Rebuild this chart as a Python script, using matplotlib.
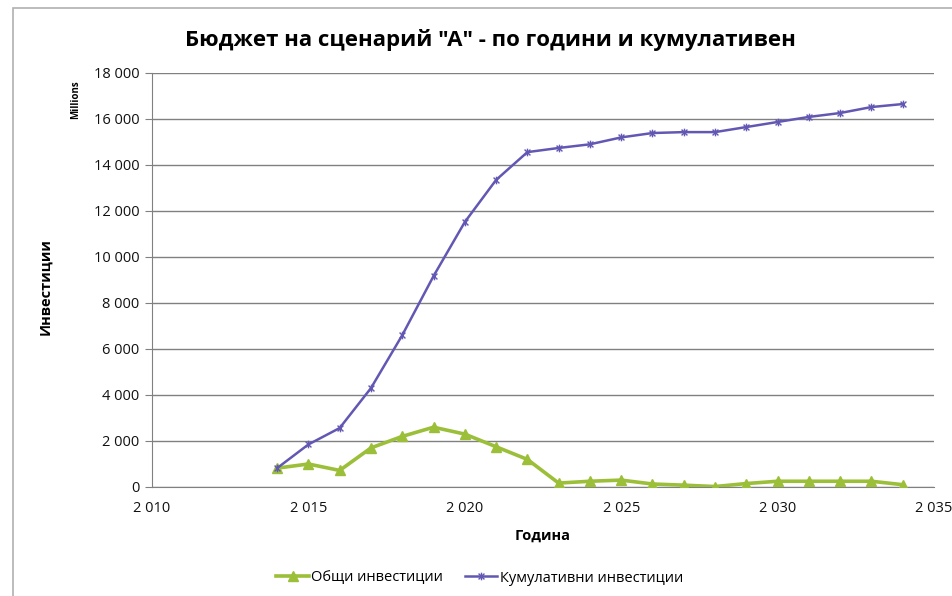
import matplotlib
matplotlib.use("Agg")
import matplotlib.pyplot as plt
from matplotlib.path import Path
from matplotlib.patches import Rectangle
from matplotlib.ticker import FuncFormatter, MultipleLocator

plt.rcParams['font.family'] = ['Open Sans', 'DejaVu Sans']

years = [2014, 2015, 2016, 2017, 2018, 2019, 2020, 2021, 2022, 2023, 2024,
         2025, 2026, 2027, 2028, 2029, 2030, 2031, 2032, 2033, 2034]
total_invest = [820, 1000, 720, 1700, 2200, 2600, 2300, 1750, 1200, 170, 250,
                300, 130, 80, 20, 150, 250, 250, 250, 250, 100]
cumulative_invest = [820, 1850, 2565, 4300, 6600, 9170, 11520, 13350, 14560, 14740, 14900,
                     15200, 15390, 15430, 15430, 15650, 15870, 16090, 16260, 16520, 16650]

title = 'Бюджет на сценарий "А" - по години и кумулативен'
label_total = 'Общи инвестиции'
label_cum = 'Кумулативни инвестиции'
xlabel = 'Година'
ylabel = 'Инвестиции'
unit_label = 'Millions'

green = '#9cbf3a'
purple = '#6258b4'
grid_c = '#808080'

star = Path([(-1, -1), (1, 1), (-1, 1), (1, -1), (0, -1.3), (0, 1.3)],
            [Path.MOVETO, Path.LINETO, Path.MOVETO, Path.LINETO, Path.MOVETO, Path.LINETO])

W, H = 953, 596
fig = plt.figure(figsize=(W / 100, H / 100), dpi=100)
fig.patch.set_facecolor('white')
ax = fig.add_axes([152 / W, 1 - 487 / H, (934 - 152) / W, (487 - 73) / H])

# outer frame of chart area
fig.patches.append(Rectangle((13 / W, -0.1), 1.2, 1 - 8 / H + 0.1, transform=fig.transFigure,
                             fill=False, edgecolor='#b0b0b0', linewidth=1.2))

ax.plot(years, total_invest, color=green, linewidth=2.6, marker='^', markersize=6.5,
        markerfacecolor=green, markeredgecolor=green, label=label_total, zorder=3)
ax.plot(years, cumulative_invest, color=purple, linewidth=1.8, marker=star, markersize=5.5,
        markerfacecolor='none', markeredgecolor=purple, markeredgewidth=1.0,
        label=label_cum, zorder=4)

ax.set_xlim(2010, 2035)
ax.set_ylim(0, 18000)
ax.xaxis.set_major_locator(MultipleLocator(5))
ax.yaxis.set_major_locator(MultipleLocator(2000))

def thousands(v, pos):
    return f"{int(round(v)):,}".replace(',', ' ')

ax.xaxis.set_major_formatter(FuncFormatter(thousands))
ax.yaxis.set_major_formatter(FuncFormatter(thousands))

ax.grid(axis='y', color=grid_c, linewidth=1.0)
ax.set_axisbelow(True)
for s in ['top', 'right']:
    ax.spines[s].set_visible(False)
ax.spines['left'].set_color(grid_c)
ax.spines['bottom'].set_color(grid_c)
ax.tick_params(axis='y', length=5, color=grid_c, labelsize=10.5, pad=4, labelcolor='#111111')
ax.tick_params(axis='x', length=0, labelsize=10.5, pad=10, labelcolor='#111111')

fig.text(490 / W, 1 - 40 / H, title, ha='center', va='center', fontsize=16, fontweight='bold')
fig.text(543 / W, 1 - 536 / H, xlabel, ha='center', va='center', fontsize=10.5, fontweight='bold')
fig.text(45 / W, 1 - 287 / H, ylabel, ha='center', va='center', rotation=90, fontsize=10.5,
         fontweight='bold')
fig.text(76 / W, 1 - 100 / H, unit_label, ha='center', va='center', rotation=90, fontsize=7,
         fontweight='bold')

fig.legend(loc='center', bbox_to_anchor=(480 / W, 1 - 578 / H), ncol=2, frameon=False,
           fontsize=10.5, handlelength=2.2, handletextpad=0.2, columnspacing=1.5)

fig.savefig('out.png', dpi=100, facecolor='white')
